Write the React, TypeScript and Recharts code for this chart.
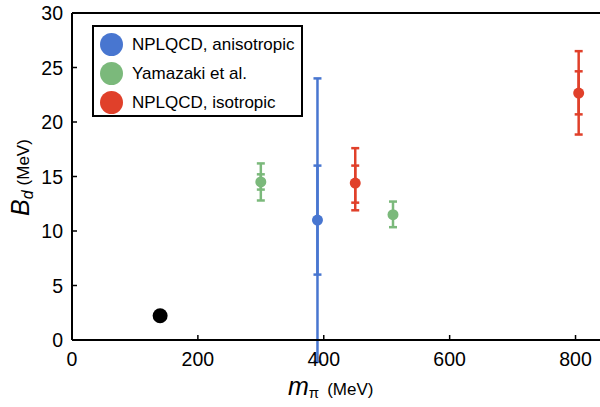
import React from "react";
import {
  ScatterChart,
  Scatter,
  XAxis,
  YAxis,
  ErrorBar,
  ReferenceLine,
} from "recharts";

// pion mass (MeV) and deuteron binding energy B_d (MeV)
const seriesNames = ["NPLQCD, anisotropic", "Yamazaki et al.", "NPLQCD, isotropic"];
const seriesColors = ["#4876D0", "#7BB97B", "#E0402A"];

const anisoMpi = [390];
const anisoBd = [11.0];
const anisoInner = [[5.0, 5.0]];
const anisoOuter = [[13.0, 13.0]];

const yamaMpi = [300, 510];
const yamaBd = [14.5, 11.5];
const yamaInner = [[0.7, 0.7], [0, 0]];
const yamaOuter = [[1.7, 1.7], [1.15, 1.2]];

const isoMpi = [450, 805];
const isoBd = [14.4, 22.65];
const isoInner = [[1.8, 1.6], [1.95, 2.0]];
const isoOuter = [[2.5, 3.2], [3.8, 3.85]];

const physMpi = [140];
const physBd = [2.22];

const xTicks = [0, 200, 400, 600, 800];
const yTicks = [0, 5, 10, 15, 20, 25, 30];

const build = (xs: number[], ys: number[], inner?: number[][], outer?: number[][]) =>
  xs.map((x, i) => ({
    x,
    y: ys[i],
    inner: inner ? inner[i] : [0, 0],
    outer: outer ? outer[i] : [0, 0],
  }));

const anisoData = build(anisoMpi, anisoBd, anisoInner, anisoOuter);
const yamaData = build(yamaMpi, yamaBd, yamaInner, yamaOuter);
const isoData = build(isoMpi, isoBd, isoInner, isoOuter);
const physData = build(physMpi, physBd);

const FONT = "'Liberation Sans', Arial, Helvetica, sans-serif";

const dot = (color: string, r: number) => (props: any) =>
  <circle cx={props.cx} cy={props.cy} r={r} fill={color} />;

const YTick = (props: any) => {
  const { x, y, payload } = props;
  return (
    <g>
      <line x1={x} x2={x + 5} y1={y} y2={y} stroke="#000" strokeWidth={1.5} />
      <text x={x - 9} y={y} dy="0.36em" textAnchor="end" fontSize={19.5} fontFamily={FONT} fill="#000">
        {payload.value}
      </text>
    </g>
  );
};

const XTick = (props: any) => {
  const { x, y, payload } = props;
  return (
    <g>
      <line x1={x} x2={x} y1={y} y2={y - 5} stroke="#000" strokeWidth={1.5} />
      <text x={x} y={y + 26} textAnchor="middle" fontSize={19.5} fontFamily={FONT} fill="#000">
        {payload.value}
      </text>
    </g>
  );
};

const LegendBox = () => (
  <div
    style={{
      position: "absolute",
      top: 25,
      left: 92,
      border: "2px solid #000",
      background: "#fff",
      width: 207,
      height: 85,
      boxSizing: "content-box",
      paddingTop: 3,
      fontFamily: FONT,
    }}
  >
    {seriesNames.map((name, i) => (
      <div key={name} style={{ display: "flex", alignItems: "center", height: 29, paddingLeft: 6 }}>
        <span
          style={{
            width: 23,
            height: 23,
            borderRadius: "50%",
            background: seriesColors[i],
            display: "inline-block",
            marginRight: 9,
            flexShrink: 0,
          }}
        />
        <span style={{ fontSize: 17, color: "#000", whiteSpace: "nowrap" }}>{name}</span>
      </div>
    ))}
  </div>
);

export default function App() {
  return (
    <div style={{ position: "absolute", top: 0, left: 0, width: 600, height: 407, overflow: "hidden", background: "#fff" }}>
      <ScatterChart width={640} height={407} margin={{ top: 13, right: 33, left: 0, bottom: 0 }}>
        <XAxis
          type="number"
          dataKey="x"
          domain={[0, 850]}
          ticks={xTicks}
          height={67}
          tickSize={0}
          tickMargin={0}
          tickLine={false}
          tick={<XTick />}
          axisLine={{ stroke: "#000", strokeWidth: 2 }}
          label={{
            content: () => (
              <text x={288} y={395} textAnchor="start" fontFamily={FONT} fill="#000">
                <tspan fontSize={25} fontStyle="italic">m</tspan>
                <tspan fontSize={15} dy={3}>π</tspan>
                <tspan fontSize={17} dy={-3} dx={8}>(MeV)</tspan>
              </text>
            ),
          }}
        />
        <YAxis
          type="number"
          dataKey="y"
          domain={[0, 30]}
          ticks={yTicks}
          allowDataOverflow
          width={72}
          tickSize={0}
          tickMargin={0}
          tickLine={false}
          tick={<YTick />}
          axisLine={{ stroke: "#000", strokeWidth: 2 }}
          label={{
            content: () => (
              <text
                x={29}
                y={216}
                textAnchor="start"
                fontFamily={FONT}
                fill="#000"
                transform="rotate(-90 29 216)"
              >
                <tspan fontSize={25} fontStyle="italic">B</tspan>
                <tspan fontSize={16} fontStyle="italic" dy={4}>d</tspan>
                <tspan fontSize={17} dy={-4} dx={5}>(MeV)</tspan>
              </text>
            ),
          }}
        />
        <ReferenceLine y={30} stroke="#000" strokeWidth={2} ifOverflow="visible" />
        <Scatter name={seriesNames[0]} data={anisoData} fill={seriesColors[0]} shape={dot(seriesColors[0], 5.5)} isAnimationActive={false}>
          <ErrorBar dataKey="outer" direction="y" width={4} stroke={seriesColors[0]} strokeWidth={2.5} />
          <ErrorBar dataKey="inner" direction="y" width={4} stroke={seriesColors[0]} strokeWidth={2.5} />
        </Scatter>
        <Scatter name={seriesNames[1]} data={yamaData} fill={seriesColors[1]} shape={dot(seriesColors[1], 5.5)} isAnimationActive={false}>
          <ErrorBar dataKey="outer" direction="y" width={4} stroke={seriesColors[1]} strokeWidth={2.5} />
          <ErrorBar dataKey="inner" direction="y" width={4} stroke={seriesColors[1]} strokeWidth={2.5} />
        </Scatter>
        <Scatter name={seriesNames[2]} data={isoData} fill={seriesColors[2]} shape={dot(seriesColors[2], 5.5)} isAnimationActive={false}>
          <ErrorBar dataKey="outer" direction="y" width={4} stroke={seriesColors[2]} strokeWidth={2.5} />
          <ErrorBar dataKey="inner" direction="y" width={4} stroke={seriesColors[2]} strokeWidth={2.5} />
        </Scatter>
        <Scatter name="physical" legendType="none" data={physData} fill="#000" shape={dot("#000", 7.5)} isAnimationActive={false} />
      </ScatterChart>
      <LegendBox />
    </div>
  );
}
